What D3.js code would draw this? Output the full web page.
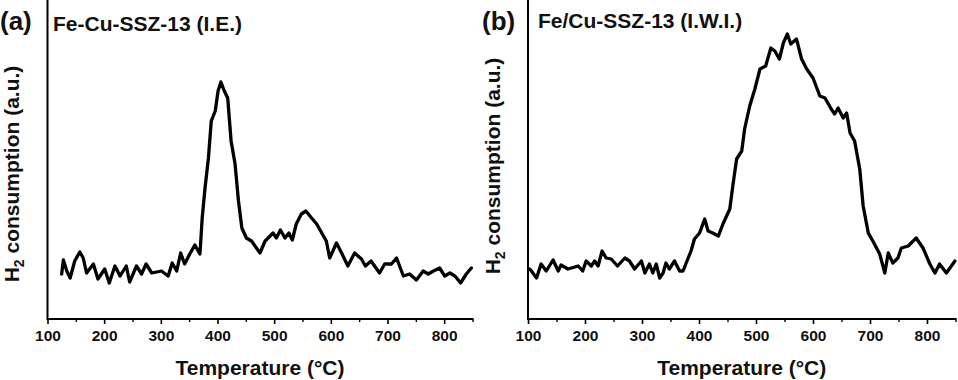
<!DOCTYPE html>
<html><head><meta charset="utf-8">
<script src="https://cdn.jsdelivr.net/npm/d3@7"></script>
<style>
html,body{margin:0;padding:0;background:#fff;}
svg{display:block;font-family:"Liberation Sans",Arial,sans-serif;font-weight:bold;}
</style></head>
<body>
<svg id="chart" width="958" height="380"></svg>
<script>
// ---- data (temperatures in °C, H2 consumption in a.u.) ----
const tempsA = [125,128,134,140,148,157,163,169,181,189,201,209,219,228,239,245,257,266,274,284,301,313,320,328,335,342,351,360,369,373,378,384,389,396,401,406,412,418,424,431,437,443,451,460,475,484,498,504,511,519,526,532,539,548,556,566,575,584,592,598,610,619,630,642,654,661,671,686,695,707,716,728,739,751,763,772,781,792,801,810,819,829,839,848];
const valuesA = [45,59,48,41,58,67,61,46,55,40,50,36,53,43,53,37,53,45,55,46,48,43,56,48,66,55,65,74,65,101,131,161,198,208,228,237,228,221,178,155,118,91,81,78,66,78,86,81,89,81,86,79,95,105,108,101,95,86,78,61,76,66,53,66,60,53,58,46,55,55,61,43,45,39,48,45,48,51,43,46,43,36,45,51];
const tempsB = [103,106,115,123,132,144,153,158,170,188,196,202,211,217,223,230,237,246,257,270,278,287,299,305,313,319,325,331,337,342,348,357,366,372,381,386,392,401,410,416,424,434,442,454,460,466,475,480,489,498,507,517,526,533,541,548,555,561,571,580,589,600,612,621,632,638,644,653,659,665,673,682,688,697,705,717,726,732,740,749,755,767,781,793,805,814,822,834,849];
const valuesB = [50,48,41,55,48,59,48,54,50,53,48,58,53,58,53,68,61,60,53,61,58,50,58,46,55,46,55,41,46,56,50,58,48,48,61,68,80,86,100,88,86,83,95,110,136,160,168,190,213,230,250,253,271,268,260,276,285,275,280,260,250,241,223,221,210,205,211,201,206,186,178,150,113,86,78,65,46,66,56,61,71,73,81,71,55,46,55,46,58];
const xTicks = [100,200,300,400,500,600,700,800];
const minorTicks = [150,250,350,450,550,650,750,850];
const panels = [
  {tag:"(a)", title:"Fe-Cu-SSZ-13 (I.E.)", temps:tempsA, values:valuesA},
  {tag:"(b)", title:"Fe/Cu-SSZ-13 (I.W.I.)", temps:tempsB, values:valuesB}
];
const yLabel = "consumption (a.u.)";
const xLabel = "Temperature (\u00B0C)";

// ---- layout ----
const layout = [
  {x0:47.5, x1:472.5, tagX:0, tagY:30, titleX:53, titleY:31, ylabX:19, ylabY:174},
  {x0:528, x1:955.5, tagX:482, tagY:30, titleX:538, titleY:28, ylabX:500, ylabY:166}
];
const yTop = 0, yBase = 319;

const svg = d3.select("#chart");

panels.forEach((p, i) => {
  const L = layout[i];
  const x = d3.scaleLinear().domain([100, 850]).range([L.x0, L.x1]);
  const y = d3.scaleLinear().domain([0, 319]).range([yBase, yTop]);
  const g = svg.append("g");

  // x axis
  const ax = g.append("g").attr("transform", `translate(0,${yBase})`)
    .call(d3.axisBottom(x).tickValues(xTicks).tickSize(5).tickPadding(6).tickFormat(d3.format("d")));
  ax.select(".domain").remove();
  ax.selectAll(".tick line").attr("stroke", "#000").attr("stroke-width", 1.6);
  ax.selectAll(".tick text").attr("font-size", "15.5px").attr("font-weight", "bold")
    .attr("font-family", '"Liberation Sans",Arial,sans-serif').attr("fill", "#111");
  const axm = g.append("g").attr("transform", `translate(0,${yBase})`)
    .call(d3.axisBottom(x).tickValues(minorTicks).tickSize(3).tickFormat(""));
  axm.select(".domain").remove();
  axm.selectAll(".tick line").attr("stroke", "#000").attr("stroke-width", 1.4);

  // axis lines
  g.append("line").attr("x1", L.x0).attr("x2", L.x1 + 1).attr("y1", yBase).attr("y2", yBase)
    .attr("stroke", "#000").attr("stroke-width", 2);
  g.append("line").attr("x1", L.x0).attr("x2", L.x0).attr("y1", yTop).attr("y2", yBase + 1)
    .attr("stroke", "#000").attr("stroke-width", 2);

  // curve
  const pts = p.temps.map((t, k) => [t, p.values[k]]);
  g.append("path").datum(pts)
    .attr("fill", "none").attr("stroke", "#000").attr("stroke-width", 3.3)
    .attr("stroke-linejoin", "round").attr("stroke-linecap", "round")
    .attr("d", d3.line().x(d => x(d[0])).y(d => y(d[1])));

  // labels
  g.append("text").attr("x", L.tagX).attr("y", L.tagY).attr("font-size", "26px").attr("fill", "#111").text(p.tag);
  g.append("text").attr("x", L.titleX).attr("y", L.titleY).attr("font-size", "21px").attr("fill", "#111").text(p.title);
  g.append("text").attr("x", (L.x0 + L.x1) / 2).attr("y", 375).attr("text-anchor", "middle")
    .attr("font-size", "21px").attr("fill", "#111").text(xLabel);
  const yl = g.append("text").attr("transform", `translate(${L.ylabX},${L.ylabY}) rotate(-90)`)
    .attr("text-anchor", "middle").attr("font-size", "21px").attr("fill", "#111");
  yl.append("tspan").text("H");
  yl.append("tspan").attr("font-size", "14px").attr("dy", 5).text("2");
  yl.append("tspan").attr("dy", -5).text(" " + yLabel);
});
</script>
</body></html>
